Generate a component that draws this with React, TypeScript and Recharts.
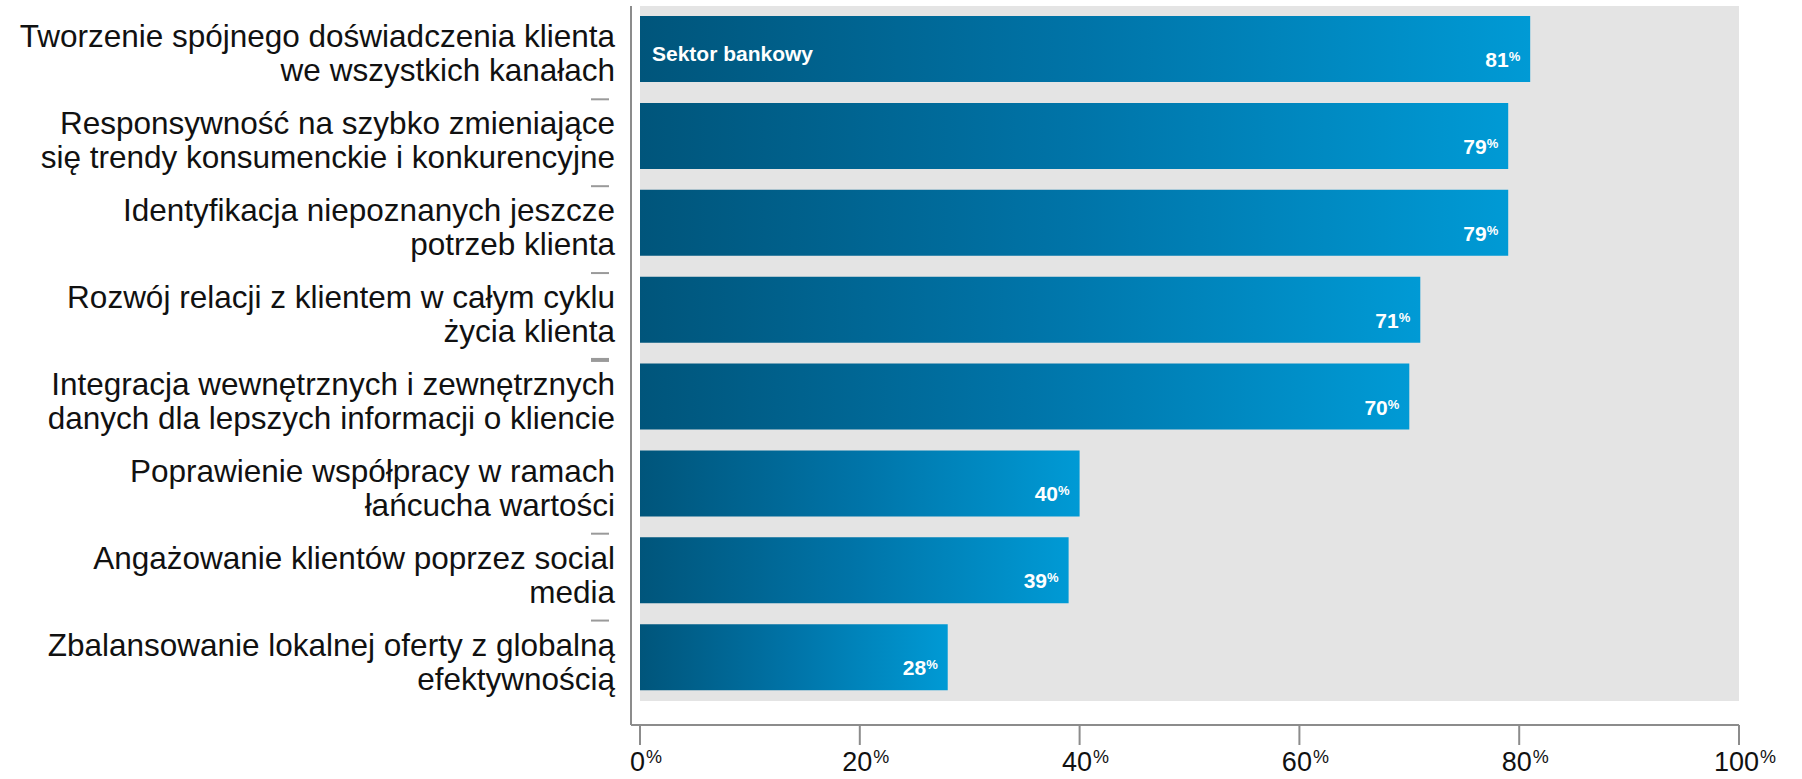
import React from 'react'
import {
  BarChart,
  Bar,
  XAxis,
  YAxis,
  ReferenceArea,
  LabelList,
} from 'recharts'

const categories = [
  'Tworzenie spójnego doświadczenia klienta\nwe wszystkich kanałach',
  'Responsywność na szybko zmieniające\nsię trendy konsumenckie i konkurencyjne',
  'Identyfikacja niepoznanych jeszcze\npotrzeb klienta',
  'Rozwój relacji z klientem w całym cyklu\nżycia klienta',
  'Integracja wewnętrznych i zewnętrznych\ndanych dla lepszych informacji o kliencie',
  'Poprawienie współpracy w ramach\nłańcucha wartości',
  'Angażowanie klientów poprzez social\nmedia',
  'Zbalansowanie lokalnej oferty z globalną\nefektywnością',
]

const values = [81, 79, 79, 71, 70, 40, 39, 28]

const seriesName = 'Sektor bankowy'

const xTicks = [0, 20, 40, 60, 80, 100]

const data = categories.map((name, i) => ({ name, value: values[i] }))

const FONT = '"Liberation Sans", Arial, Helvetica, sans-serif'
const AXIS_GRAY = '#8c8c8c'
const BAR_SIZE = 66

// short grey marks left over next to some of the row labels (row index -> thickness)
const rowMarks: Record<number, number> = { 1: 2, 2: 2, 3: 2, 4: 4, 6: 2, 7: 2 }

type TickProps = {
  x?: number;
  y?: number;
  payload?: { value: string | number; index: number };
}

function CategoryTick({ x = 0, y = 0, payload }: TickProps) {
  if (!payload) return null
  const lines = String(payload.value).split('\n')
  const lineHeight = 34
  const first = y + 4 - ((lines.length - 1) * lineHeight) / 2 + 11
  const mark = rowMarks[payload.index]
  return (
    <g>
      {mark ? (
        <line
          x1={x - 24}
          x2={x - 6}
          y1={y - BAR_SIZE / 2 - 4}
          y2={y - BAR_SIZE / 2 - 4}
          stroke="#9a9a9a"
          strokeWidth={mark}
        />
      ) : null}
      <text x={x} y={first} textAnchor="end" fontSize={31.5} fontFamily={FONT} fill="#111">
        {lines.map((line, i) => (
          <tspan key={line} x={x} y={first + i * lineHeight}>{line}</tspan>
        ))}
      </text>
    </g>
  )
}

function PercentTick({ x = 0, y = 0, payload }: TickProps) {
  if (!payload) return null
  return (
    <text x={x + 6} y={y + 24} textAnchor="middle" fontFamily={FONT} fill="#111">
      <tspan fontSize={27}>{payload.value}</tspan>
      <tspan fontSize={18} dx={1} dy={-8}>%</tspan>
    </text>
  )
}

type LabelProps = {
  x?: number;
  y?: number;
  width?: number;
  height?: number;
  value?: number | string;
  index?: number;
}

function ValueLabel({ x = 0, y = 0, width = 0, height = 0, value, index }: LabelProps) {
  const right = Number(x) + Number(width) - 10
  const base = Number(y) + Number(height) - 15
  return (
    <g>
      {index === 0 ? (
        <text x={Number(x) + 12} y={Number(y) + 45} fontSize={21} fontWeight="bold" fontFamily={FONT} fill="#fff">
          {seriesName}
        </text>
      ) : null}
      <text x={right} y={base} textAnchor="end" fontFamily={FONT} fontWeight="bold" fill="#fff">
        <tspan fontSize={21}>{value}</tspan>
        <tspan fontSize={13} dy={-6}>%</tspan>
      </text>
    </g>
  )
}

export default function App() {
  return (
    <div style={{ position: 'absolute', left: 0, top: 0 }}>
      <BarChart
        width={1802}
        height={779}
        data={data}
        layout="vertical"
        margin={{ top: 6, right: 63, bottom: 0, left: 0 }}
      >
        <defs>
          <linearGradient id="bankBar" x1="0" y1="0" x2="1" y2="0">
            <stop offset="0" stopColor="#00557b" />
            <stop offset="0.5" stopColor="#0074a8" />
            <stop offset="1" stopColor="#009ad5" />
          </linearGradient>
        </defs>
        <ReferenceArea
          x1={0}
          x2={100}
          y1={categories[0]}
          y2={categories[categories.length - 1]}
          fill="#e4e4e4"
          fillOpacity={1}
          stroke="none"
          ifOverflow="visible"
          zIndex={-50}
        />
        <XAxis
          type="number"
          domain={[0, 100]}
          ticks={xTicks}
          interval={0}
          height={54}
          padding={{ left: 9, right: 0 }}
          axisLine={{ stroke: AXIS_GRAY, strokeWidth: 2 }}
          tickLine={{ stroke: AXIS_GRAY, strokeWidth: 2 }}
          tickSize={20}
          tick={<PercentTick />}
        />
        <YAxis
          type="category"
          dataKey="name"
          width={631}
          interval={0}
          padding={{ top: 0, bottom: 24 }}
          axisLine={{ stroke: AXIS_GRAY, strokeWidth: 2 }}
          tickLine={false}
          tickSize={0}
          tickMargin={16}
          tick={<CategoryTick />}
        />
        <Bar
          dataKey="value"
          name={seriesName}
          fill="url(#bankBar)"
          barSize={BAR_SIZE}
          isAnimationActive={false}
        >
          <LabelList dataKey="value" content={<ValueLabel />} />
        </Bar>
      </BarChart>
    </div>
  )
}
